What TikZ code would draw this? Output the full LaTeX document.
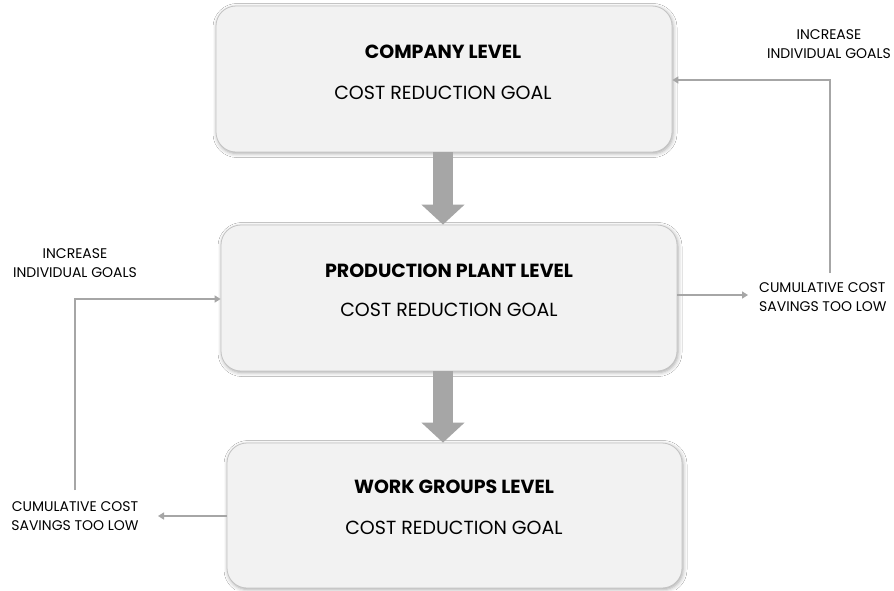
\documentclass[tikz,border=0pt]{standalone}
\usepackage{fontspec}
\setmainfont{Poppins}
\usetikzlibrary{arrows.meta,shadows.blur}
\definecolor{boxfill}{HTML}{F2F2F2}
\definecolor{boxline}{HTML}{C4C4C4}
\definecolor{arrowgray}{HTML}{A6A6A6}
\tikzset{
  levelbox/.style={draw=boxline, line width=0.8pt, fill=boxfill, rounded corners=20pt,
    minimum width=456pt, minimum height=146pt, inner sep=0pt,
    blur shadow={shadow xshift=1pt, shadow yshift=-1.5pt, shadow blur radius=4pt, shadow opacity=35}},
  title/.style={font=\fontsize{19}{22}\selectfont\bfseries, inner sep=0pt},
  goal/.style={font=\fontsize{19}{22}\selectfont, inner sep=0pt},
  note/.style={font=\fontsize{14}{19}\selectfont, align=center, inner sep=0pt},
  bigarrow/.style={draw=arrowgray, line width=20pt, -{Triangle[length=20pt,width=42pt]}},
  thinarrow/.style={draw=arrowgray, line width=1.5pt, -{Triangle[length=6pt,width=7pt]}},
  thinline/.style={draw=arrowgray, line width=1.5pt}
}
\begin{document}
\begin{tikzpicture}[x=1pt,y=-1pt]
\useasboundingbox (0,0) rectangle (894,590);
\fill[white] (0,0) rectangle (894,590);

% the three levels
\node[levelbox] (company) at (444,79) {};
\node[levelbox] (plant)   at (449,298) {};
\node[levelbox, minimum width=455pt, minimum height=145pt] (groups) at (454.5,515.5) {};

\node[title] (companyT) at (443,52) {COMPANY LEVEL};
\node[goal]  (companyG) at (443,93) {COST REDUCTION GOAL};
\node[title] (plantT)   at (449,271) {PRODUCTION PLANT LEVEL};
\node[goal]  (plantG)   at (449,310) {COST REDUCTION GOAL};
\node[title] (groupsT)  at (454,487) {WORK GROUPS LEVEL};
\node[goal]  (groupsG)  at (454,528) {COST REDUCTION GOAL};

% goals passed down
\draw[bigarrow] (company.south -| 443,0) -- (plant.north -| 443,0);
\draw[bigarrow] (plant.south -| 443,0) -- (groups.north -| 443,0);

% right feedback loop
\node[note] (rinc) at (829,44) {INCREASE\\INDIVIDUAL GOALS};
\node[note, anchor=west, align=left] (rcum) at (759,297) {CUMULATIVE COST\\SAVINGS TOO LOW};
\coordinate (rup) at (830,273);
\draw[thinarrow] (plant.east |- 0,295) -- (748,295);
\draw[thinarrow] (rup) |- (company.east |- 0,80);

% left feedback loop
\node[note] (linc) at (75,263) {INCREASE\\INDIVIDUAL GOALS};
\node[note] (lcum) at (75,516) {CUMULATIVE COST\\SAVINGS TOO LOW};
\coordinate (lup) at (75,490);
\draw[thinarrow] (groups.west |- 0,516) -- (158,516);
\draw[thinarrow] (lup) |- (plant.west |- 0,299);
\end{tikzpicture}
\end{document}
